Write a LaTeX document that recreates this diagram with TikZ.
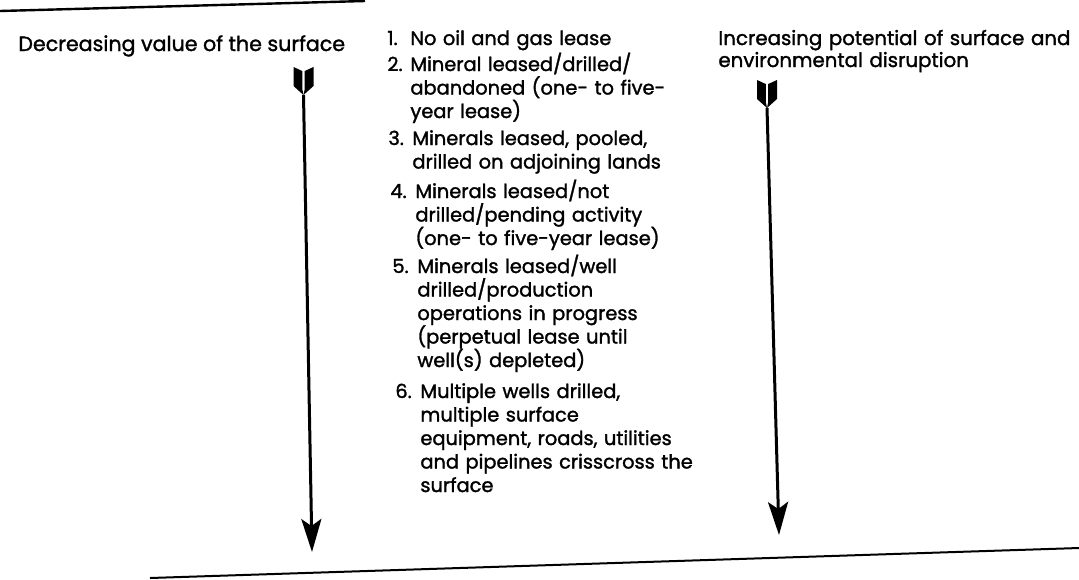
\documentclass[tikz,border=0pt]{standalone}
\usepackage{fontspec}
\setmainfont{Poppins}[FakeBold=1.5]
\usetikzlibrary{arrows.meta}

\begin{document}
\begin{tikzpicture}[x=0.5pt,y=-0.5pt,
  every node/.style={font=\fontsize{10.3}{11.75}\selectfont,inner sep=0pt},
  stage/.style={anchor=base west,text width=180pt,align=left,font=\fontsize{9.7}{11.75}\selectfont},
  shaft/.style={line width=1.5pt,-{Stealth[length=16.5pt,width=10pt,inset=3.5pt]}}]
  \useasboundingbox (0,0) rectangle (1079,579);
  %rules above and below
  \draw[line width=1.2pt] (0,11)--(365,1);
  \draw[line width=1pt] (150,578)--(1079,548);

  \node[anchor=base west] (value) at (18,51) {Decreasing value of the surface};
  \node[anchor=base west,text width=200pt,align=left,font=\fontsize{9.9}{11}\selectfont] (risk) at (718,45)
    {Increasing potential of surface and\\environmental disruption};

  % numbers, then the stage texts beside them
  \node[stage] (n1) at (387,45) {1.};
  \node[stage] (s1) at (410,45) {No oil and gas lease};
  \node[stage] (n2) at (387,71) {2.};
  \node[stage] (s2) at (410,71) {Mineral leased/drilled/\\abandoned (one- to five-\\year lease)};
  \node[stage] (n3) at (388,145) {3.};
  \node[stage] (s3) at (412,145) {Minerals leased, pooled,\\drilled on adjoining lands};
  \node[stage] (n4) at (390,198) {4.};
  \node[stage] (s4) at (415,198) {Minerals leased/not\\drilled/pending activity\\(one- to five-year lease)};
  \node[stage] (n5) at (392,273) {5.};
  \node[stage] (s5) at (417,273) {Minerals leased/well\\drilled/production\\operations in progress\\
    (perpetual lease until\\well(s) depleted)};
  \node[stage] (n6) at (395,398) {6.};
  \node[stage] (s6) at (420,398) {Multiple wells drilled,\\multiple surface\\equipment, roads, utilities\\
    and pipelines crisscross the\\surface};

  \coordinate (lnock) at (303.5,95);
  \coordinate (ltip) at (312,552);
  \coordinate (rnock) at (767,108);
  \coordinate (rtip) at (779,535);

  \draw[shaft] (lnock)--(ltip);
  \draw[shaft] (rnock)--(rtip);
  \foreach \c in {lnock,rnock}{
    \fill[shift={(\c)}] (-10,-28)--(-1.2,-24)--(-1.2,-6)--(0,0)--(-10,-9)--cycle;
    \fill[shift={(\c)}] (10,-28)--(1.2,-24)--(1.2,-6)--(0,0)--(10,-9)--cycle;
  }
\end{tikzpicture}
\end{document}
